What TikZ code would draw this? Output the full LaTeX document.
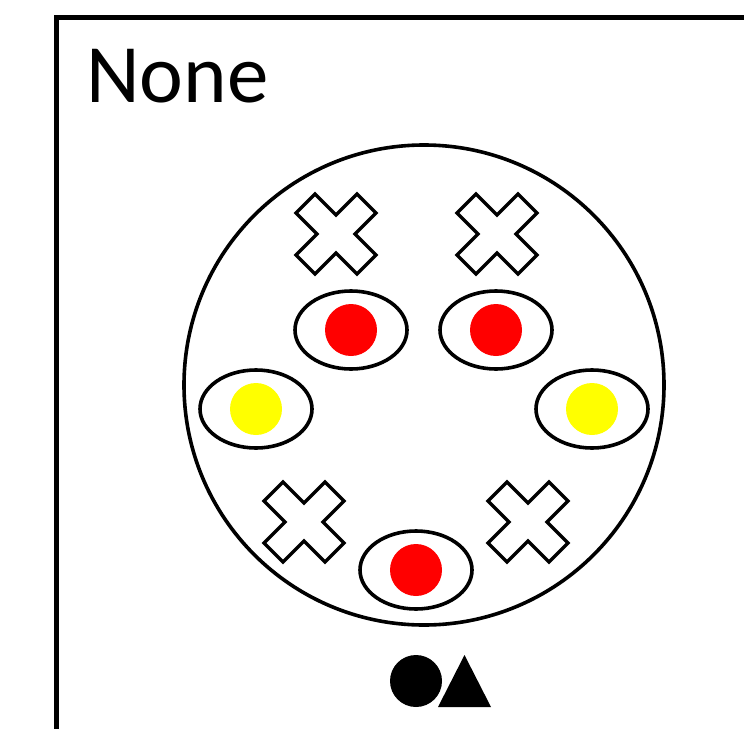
\documentclass[tikz,border=0pt]{standalone}
\usepackage{fontspec}
\setmainfont{Carlito}
\definecolor{pureyellow}{RGB}{255,255,0}
\definecolor{purered}{RGB}{255,0,0}
\begin{document}
\begin{tikzpicture}[x=1pt,y=-1pt,
  dot/.style={circle,inner sep=0pt,minimum size=52pt},
  crossmark/.style={draw=black,line width=3.4pt,fill=white,line join=miter}]
\useasboundingbox (0,0) rectangle (744,728);
\begin{scope}
\clip (0,0) rectangle (744,728);
\draw[line width=5pt] (56,17.5) rectangle (790,790);
\end{scope}
\node[anchor=base west,inner sep=0pt,font=\fontsize{83}{90}\selectfont] (title) at (86,102) {None};
% big circle
\coordinate (big) at (424,385);
\draw[line width=3.6pt] (big) circle [radius=240];
% eyes
\foreach \n/\cx/\cy/\col in {e1/351/330/purered, e2/496/330/purered, e3/256/409/pureyellow, e4/592/409/pureyellow, e5/416/570/purered}{
  \draw[line width=3.6pt] (\cx,\cy) ellipse [x radius=56,y radius=39];
  \node[dot,fill=\col] (\n) at (\cx,\cy) {};
}
% crosses
\foreach \n/\cx/\cy in {c1/336/234, c2/497/234, c3/304/522, c4/528/522}{
  \coordinate (\n) at (\cx,\cy);
  \draw[crossmark,shift={(\cx,\cy)}] (-40,-21) -- (-21,-40) -- (0,-19) -- (21,-40) -- (40,-21) -- (19,0) -- (40,21) -- (21,40) -- (0,19) -- (-21,40) -- (-40,21) -- (-19,0) -- cycle;
}
% legend shapes
\node[circle,fill=black,inner sep=0pt,minimum size=52pt] (bc) at (416,681) {};
\coordinate (t1) at (464.5,655);
\coordinate (t2) at (438,707);
\coordinate (t3) at (491,707);
\fill[black] (t1) -- (t2) -- (t3) -- cycle;
\end{tikzpicture}
\end{document}
